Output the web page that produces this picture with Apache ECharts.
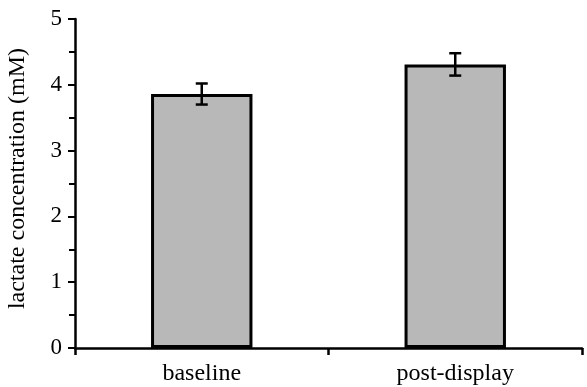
<!DOCTYPE html>
<html>
<head>
<meta charset="utf-8">
<script src="https://cdn.jsdelivr.net/npm/echarts@6/dist/echarts.min.js"></script>
<style>
  html, body { margin: 0; padding: 0; background: #fff; }
  #chart { width: 587px; height: 387px; }
</style>
</head>
<body>
<div id="chart"></div>
<script>
var categories = ['baseline', 'post-display'];
var means = [3.86, 4.31];
var errors = [0.16, 0.17];
var yTicks = [0, 1, 2, 3, 4, 5];

var serif = '"Liberation Serif", "DejaVu Serif", serif';

var errData = [];
for (var i = 0; i < categories.length; i++) {
    errData.push([i, means[i] - errors[i], means[i] + errors[i]]);
}

var chart = echarts.init(document.getElementById('chart'));
chart.setOption({
    animation: false,
    grid: { left: 75, right: 5, top: 19, bottom: 39, containLabel: false, outerBoundsMode: 'none' },
    xAxis: {
        type: 'category',
        data: categories,
        axisLine: { lineStyle: { color: '#000', width: 2.5 } },
        axisTick: { show: true, alignWithLabel: false, length: 7, lineStyle: { color: '#000', width: 2.5 } },
        axisLabel: { color: '#000', fontFamily: serif, fontSize: 24, margin: 14 }
    },
    yAxis: {
        type: 'value',
        min: yTicks[0],
        max: yTicks[yTicks.length - 1],
        interval: 1,
        name: 'lactate concentration (mM)',
        nameLocation: 'middle',
        nameGap: 45,
        nameTextStyle: { color: '#000', fontFamily: serif, fontSize: 24, padding: [0, 0, 0, 10] },
        axisLine: { show: true, lineStyle: { color: '#000', width: 2.5 } },
        axisTick: { show: true, length: 7, lineStyle: { color: '#000', width: 2 } },
        minorTick: { show: true, splitNumber: 2, length: 6, lineStyle: { color: '#000', width: 2 } },
        axisLabel: { color: '#000', fontFamily: serif, fontSize: 23, margin: 13 },
        splitLine: { show: false }
    },
    series: [{
        type: 'bar',
        data: means,
        barWidth: '40%',
        itemStyle: { color: '#b8b8b8', borderColor: '#000', borderWidth: 3 }
    }, {
        type: 'custom',
        data: errData,
        z: 10,
        renderItem: function (params, api) {
            var x = api.value(0);
            var lo = api.coord([x, api.value(1)]);
            var hi = api.coord([x, api.value(2)]);
            var cap = 6;
            var style = { stroke: '#000', lineWidth: 2.5 };
            return {
                type: 'group',
                children: [
                    { type: 'line', shape: { x1: lo[0], y1: lo[1], x2: hi[0], y2: hi[1] }, style: style },
                    { type: 'line', shape: { x1: lo[0] - cap, y1: lo[1], x2: lo[0] + cap, y2: lo[1] }, style: style },
                    { type: 'line', shape: { x1: hi[0] - cap, y1: hi[1], x2: hi[0] + cap, y2: hi[1] }, style: style }
                ]
            };
        }
    }]
});
</script>
</body>
</html>
